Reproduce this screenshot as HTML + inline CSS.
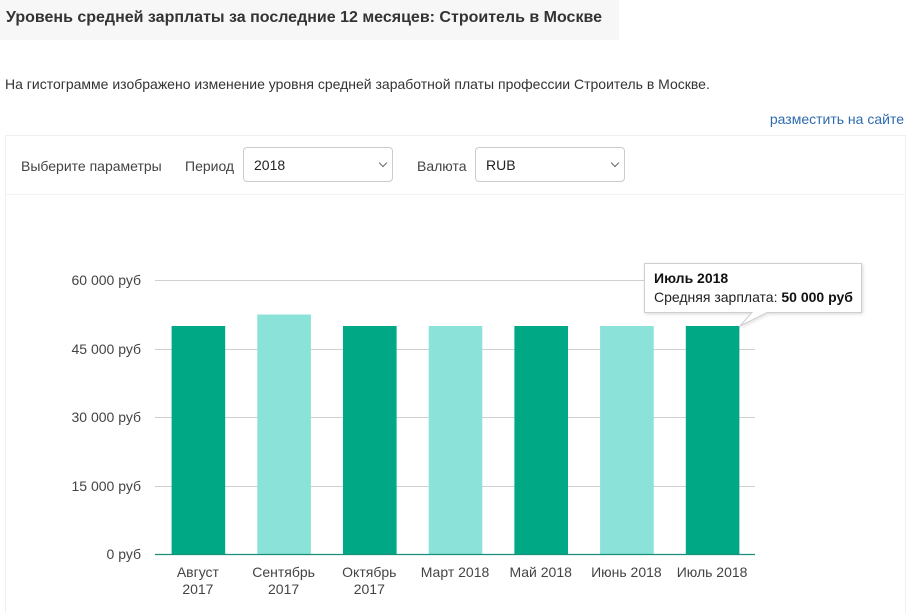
<!DOCTYPE html>
<html><head><meta charset="utf-8">
<style>
html{margin:0;padding:0;width:915px;height:613px;overflow:hidden;background:#fff;}
body{margin:0;padding:0;width:915px;height:613px;position:relative;overflow:hidden;font-family:"Liberation Sans",Arial,sans-serif;color:#333;background:#fff;}
.title{position:absolute;left:0;top:0;width:619px;height:40px;background:#f7f7f7;}
.title span{position:absolute;left:6px;top:9px;font-size:16px;font-weight:bold;color:#333;white-space:nowrap;}
.desc{position:absolute;left:5px;top:76px;font-size:14px;color:#333;white-space:nowrap;}
.link{position:absolute;right:11px;top:111px;font-size:14px;color:#2e6bb0;white-space:nowrap;}
.panel{position:absolute;left:5px;top:135px;width:899px;height:478px;border:1px solid #efefef;border-bottom:none;background:#fff;}
.sep{position:absolute;left:6px;top:194px;width:899px;height:1px;background:#f2f2f2;}
.lbl{position:absolute;top:158px;font-size:14px;color:#444;white-space:nowrap;}
.sel{position:absolute;top:147px;height:35px;border:1px solid #ccc;border-radius:4px;background:#fff;box-sizing:border-box;}
.sel span{position:absolute;left:10px;top:9px;font-size:14px;color:#222;}
.chev{position:absolute;top:12px;width:5px;height:5px;border-right:1.3px solid #666;border-bottom:1.3px solid #666;transform:rotate(45deg);}
svg{position:absolute;left:0;top:0;}
</style></head>
<body>
<div class="title"><span>Уровень средней зарплаты за последние 12 месяцев: Строитель в Москве</span></div>
<div class="desc">На гистограмме изображено изменение уровня средней заработной платы профессии Строитель в Москве.</div>
<div class="link">разместить на сайте</div>
<div class="panel"></div>
<div class="sep"></div>
<div class="lbl" style="left:21px;">Выберите параметры</div>
<div class="lbl" style="left:185px;">Период</div>
<div class="sel" style="left:243px;width:150px;"><span>2018</span><div class="chev" style="left:136px;"></div></div>
<div class="lbl" style="left:417px;">Валюта</div>
<div class="sel" style="left:475px;width:150px;"><span>RUB</span><div class="chev" style="left:136px;"></div></div>

<svg width="915" height="613" viewBox="0 0 915 613" font-family="Liberation Sans, Arial, sans-serif">
  <g stroke="#d0d0d0" stroke-width="1">
    <line x1="155" y1="280.5" x2="755" y2="280.5"/>
    <line x1="155" y1="349.5" x2="755" y2="349.5"/>
    <line x1="155" y1="417.5" x2="755" y2="417.5"/>
    <line x1="155" y1="486.5" x2="755" y2="486.5"/>
  </g>
  <g font-size="14" fill="#444" text-anchor="end">
    <text x="141" y="285">60 000 руб</text>
    <text x="141" y="354">45 000 руб</text>
    <text x="141" y="422">30 000 руб</text>
    <text x="141" y="491">15 000 руб</text>
    <text x="141" y="559">0 руб</text>
  </g>
  <g>
    <rect x="171.6" y="326" width="53.6" height="228.5" fill="#01a886"/>
    <rect x="257.3" y="314.5" width="53.6" height="240" fill="#8be2d8"/>
    <rect x="343" y="326" width="53.6" height="228.5" fill="#01a886"/>
    <rect x="428.7" y="326" width="53.6" height="228.5" fill="#8be2d8"/>
    <rect x="514.4" y="326" width="53.6" height="228.5" fill="#01a886"/>
    <rect x="600.1" y="326" width="53.6" height="228.5" fill="#8be2d8"/>
    <rect x="685.8" y="326" width="53.6" height="228.5" fill="#01a886"/>
  </g>
  <line x1="155" y1="554.5" x2="755" y2="554.5" stroke="#17907a" stroke-width="1.2"/>
  <g font-size="14" fill="#444" text-anchor="middle">
    <text x="197.9" y="577">Август</text><text x="197.9" y="594">2017</text>
    <text x="283.6" y="577">Сентябрь</text><text x="283.6" y="594">2017</text>
    <text x="369.3" y="577">Октябрь</text><text x="369.3" y="594">2017</text>
    <text x="455" y="577">Март 2018</text>
    <text x="540.7" y="577">Май 2018</text>
    <text x="626.4" y="577">Июнь 2018</text>
    <text x="712.1" y="577">Июль 2018</text>
  </g>
  <defs>
    <filter id="sh" x="-10%" y="-10%" width="130%" height="140%">
      <feDropShadow dx="1" dy="1" stdDeviation="1.5" flood-color="#000" flood-opacity="0.15"/>
    </filter>
  </defs>
  <path d="M644.5 263.5 H861.5 V312.5 H767 L740 326 L752 312.5 H644.5 Z" fill="#fff" stroke="#cfcfcf" stroke-width="1" filter="url(#sh)"/>
  <text x="654" y="283" font-size="14" font-weight="bold" fill="#111">Июль 2018</text>
  <text x="654" y="302" font-size="14" fill="#222">Средняя зарплата: <tspan font-weight="bold" fill="#111">50 000 руб</tspan></text>
</svg>
</body></html>
